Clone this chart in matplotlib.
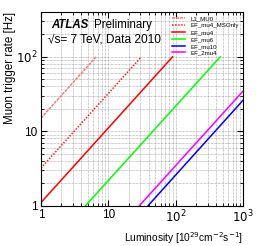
import numpy as np
import matplotlib
matplotlib.use('Agg')
import matplotlib.pyplot as plt

plt.rcParams['font.family'] = ['Liberation Sans', 'DejaVu Sans']

# trigger chains: luminosity range [1e29 cm-2 s-1] and rate [Hz] at the ends
names = ['L1_MU0', 'EF_mu4_MSOnly', 'EF_mu4', 'EF_mu6', 'EF_mu10', 'EF_2mu4']
lumi = [[1, 6.6], [1, 31], [1, 90], [4.6, 460], [39, 1000], [29, 1000]]
rate = [[15, 100], [3.2, 100], [1.1, 100], [1, 100], [1, 26], [1, 34.5]]
colors = ['#f08080', '#ff2020', '#ff0000', '#00ff00', '#0000ff', '#ff00ff']
styles = [(0, (2, 0.6)), (0, (1, 1)), '-', '-', '-', '-']

fig = plt.figure(figsize=(2.56, 2.46), dpi=100)
ax = fig.add_axes([0.16, 0.164, 0.789, 0.787])

for i in range(len(names)):
    ax.loglog(lumi[i], rate[i], color=colors[i], ls=styles[i], lw=1.1,
              label=names[i])

ax.set_xlim(1, 1000)
ax.set_ylim(1, 400)
ax.grid(True, which='both', color='#999999', ls=(0, (1, 1)), lw=0.5)
ax.tick_params(which='both', direction='in', top=True, right=True,
               labelsize=8.5, pad=2.5)
ax.tick_params(which='major', length=4)
ax.tick_params(which='minor', length=2)
ax.xaxis.set_major_formatter(matplotlib.ticker.FuncFormatter(
    lambda v, p: {1: '1', 10: '10', 100: '$10^2$', 1000: '$10^3$'}.get(int(round(v)), '')))
ax.yaxis.set_major_formatter(matplotlib.ticker.FuncFormatter(
    lambda v, p: {1: '1', 10: '10', 100: '$10^2$'}.get(int(round(v)), '')))
ax.set_xlabel('Luminosity [10$^{29}$cm$^{-2}$s$^{-1}$]', fontsize=7.3,
              loc='right', labelpad=3)
ax.set_ylabel('Muon trigger rate [Hz]', fontsize=8.3, loc='top', labelpad=0)

ax.text(0.05, 0.92, 'ATLAS', transform=ax.transAxes, fontsize=8.3,
        fontweight='bold', style='italic')
ax.text(0.265, 0.92, 'Preliminary', transform=ax.transAxes, fontsize=8.3)
ax.text(0.035, 0.845, '\u221as= 7 TeV, Data 2010', transform=ax.transAxes,
        fontsize=8.6)

ax.legend(loc='upper right', fontsize=4.4, frameon=False, handlelength=2.2,
          labelspacing=0.25, borderaxespad=0.3)

plt.savefig('out.png', dpi=100)
